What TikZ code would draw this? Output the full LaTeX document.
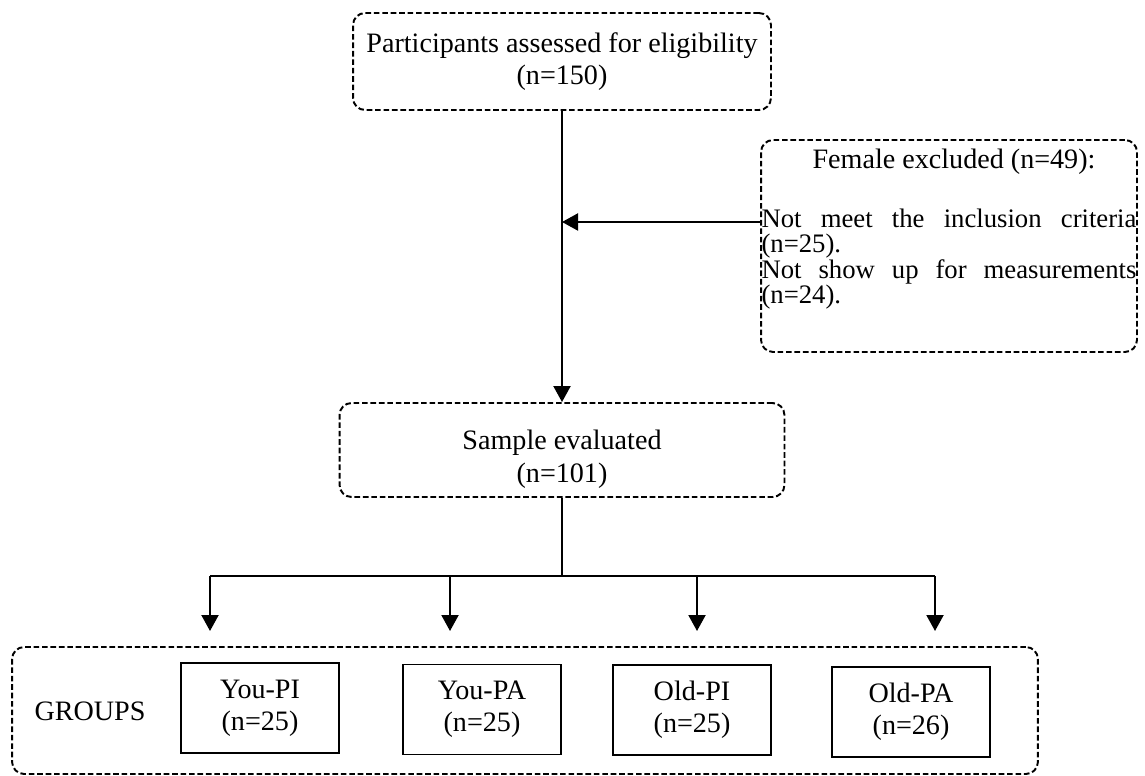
\documentclass[tikz,border=0pt]{standalone}
\usepackage{fontspec}
\setmainfont{Liberation Serif}
\usetikzlibrary{arrows.meta, calc, positioning}
\tikzset
{
  roundbox/.style={draw, line width=1.1pt, dash pattern=on 3.2pt off 1.6pt, rounded corners=0.24cm, align=center, inner sep=0pt},
  groupbox/.style={draw, line width=0.7pt, minimum width=3.16cm, minimum height=1.8cm, align=center, inner sep=0pt, font=\fontsize{16}{18.2}\selectfont},
  flow/.style={draw, line width=1.2pt, -{Triangle[length=0.32cm, width=0.34cm]}},
  branch/.style={draw, line width=0.6pt}
}

\begin{document}
\begin{tikzpicture}[x=0.02cm, y=-0.02cm, font=\fontsize{16}{18.6}\selectfont]

    \useasboundingbox (0,0) rectangle (1145,776);

    % Draw the eligibility box
    \node[roundbox, minimum width=8.36cm, minimum height=1.94cm] (assess) at (562,61.5) {Participants assessed for eligibility\\(n=150)};

    % Draw the exclusion box and its texts
    \node[roundbox, minimum width=7.52cm, minimum height=4.24cm] (excl) at (949,246) {};
    \node (exclhead) at (954,162) {Female excluded (n=49):};
    \node[text width=7.5cm, align=justify, inner sep=0pt, font=\fontsize{15.2}{14.4}\selectfont] (exclbody) at (949,259) {Not meet the inclusion criteria\linebreak (n=25).\\Not show up for measurements\linebreak (n=24).};

    % Draw the sample box
    \node[roundbox, minimum width=8.9cm, minimum height=1.88cm] (sample) at (562,450) {};
    \node[align=center] (sampletext) at (562,459) {Sample evaluated\\(n=101)};

    % Draw the main arrow and the exclusion arrow
    \draw[flow] (assess.south) -- (sample.north);
    \coordinate (exclpt) at ($(excl.west)+(0,-24)$);
    \draw[flow] (exclpt) -- (exclpt -| sample.north);

    % Define the branch points over the groups
    \foreach \name/\xpos in {ypi/210, ypa/450, opi/697, opa/935}
    {
        \coordinate (\name-top) at (\xpos,576);
        \coordinate (\name-tip) at (\xpos,631);
    }

    % Draw the split towards the groups
    \draw[branch] (sample.south) -- (sample.south |- ypi-top);
    \draw[branch] (ypi-top) -- (opa-top);
    \foreach \name in {ypi, ypa, opi, opa}
        \draw[flow] (\name-top) -- (\name-tip);

    % Draw the groups box
    \node[roundbox, minimum width=20.52cm, minimum height=2.54cm] (groups) at (525,710.5) {};
    \node (grouplabel) at (90,711) {GROUPS};

    % Draw the four groups
    \node[groupbox] (ypi) at (260,708) {You-PI\\(n=25)};
    \node[groupbox] (ypa) at (482,709.5) {You-PA\\(n=25)};
    \node[groupbox] (opi) at (692,710) {Old-PI\\(n=25)};
    \node[groupbox] (opa) at (911,712) {Old-PA\\(n=26)};

\end{tikzpicture}
\end{document}
